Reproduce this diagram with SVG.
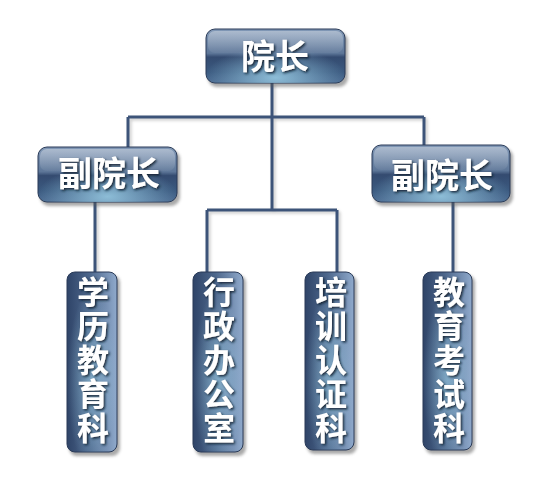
<svg xmlns="http://www.w3.org/2000/svg" width="554" height="484" viewBox="0 0 554 484">
<defs>
<linearGradient id="gh" x1="0" y1="0" x2="0" y2="1">
<stop offset="0" stop-color="#8198b6"/>
<stop offset="0.45" stop-color="#5d7698"/>
<stop offset="0.52" stop-color="#344b70"/>
<stop offset="0.8" stop-color="#3b5a80"/>
<stop offset="1" stop-color="#4f6f95"/>
</linearGradient>
<radialGradient id="glowh" cx="0.5" cy="0.85" r="0.5" fx="0.5" fy="0.9">
<stop offset="0" stop-color="#9fd3ea" stop-opacity="0.8"/>
<stop offset="1" stop-color="#9fd3ea" stop-opacity="0"/>
</radialGradient>
<linearGradient id="gv" x1="0" y1="0" x2="1" y2="0">
<stop offset="0" stop-color="#2f4468"/>
<stop offset="0.45" stop-color="#4d678c"/>
<stop offset="1" stop-color="#90aacc"/>
</linearGradient>
<radialGradient id="glowv" cx="0.5" cy="0.6" r="0.5">
<stop offset="0" stop-color="#9fd3ea" stop-opacity="0.6"/>
<stop offset="1" stop-color="#9fd3ea" stop-opacity="0"/>
</radialGradient>
<linearGradient id="gloss" x1="0" y1="0" x2="0" y2="1">
<stop offset="0" stop-color="#ffffff" stop-opacity="0.35"/>
<stop offset="1" stop-color="#ffffff" stop-opacity="0.05"/>
</linearGradient>
<filter id="sh" x="-20%" y="-20%" width="140%" height="140%">
<feGaussianBlur stdDeviation="1.5"/>
</filter>
<filter id="ts" x="-20%" y="-20%" width="140%" height="140%">
<feDropShadow dx="1.5" dy="1.5" stdDeviation="1" flood-color="#0d1a2e" flood-opacity="0.9"/>
</filter>
</defs>
<style>
.shadow{fill:#555;opacity:0.5;filter:url(#sh)}
.bh{fill:url(#gh);stroke:#2a3b58;stroke-width:1}
.bv{fill:url(#gv);stroke:#2a3b58;stroke-width:1}
.gh{fill:url(#glowh)}
.gv{fill:url(#glowv)}
.gl{fill:url(#gloss)}
.t{fill:#ffffff;font-family:"Noto Sans CJK SC","Noto Sans",sans-serif;font-weight:bold;text-anchor:middle;filter:url(#ts)}
.lg{font-size:34px}
.sm{font-size:32px;writing-mode:vertical-rl;letter-spacing:2px}
.ln{fill:none;stroke:#3d5479;stroke-width:3}
.lns{fill:none;stroke:#999;stroke-width:3;opacity:0.5;filter:url(#sh)}
</style>
<g id="connectors">
<path class="lns" d="M274,85 V119 M130,119 H426 M130,119 V147 M426,119 V145 M274,119 V212 M209,212 H339 M209,212 V272 M339,212 V272 M97,204 V272 M455,204 V272"/>
<path class="ln" d="M272,83 V117 M128,117 H424 M128,117 V147 M424,117 V145 M272,117 V210 M207,210 H337 M207,210 V272 M337,210 V272 M95,202 V272 M453,202 V272"/>
</g>
<g id="n_yuanzhang">
<rect class="shadow" x="208" y="32" width="140" height="55" rx="9"/>
<rect class="bh" x="206" y="29" width="139" height="54" rx="9"/>
<rect class="gh" x="206" y="29" width="139" height="54" rx="9"/>
<rect class="gl" x="208" y="31" width="135" height="22" rx="7"/>
<text class="t lg" x="275" y="69">院长</text>
</g>
<g id="n_fu1">
<rect class="shadow" x="40" y="150" width="140" height="56" rx="9"/>
<rect class="bh" x="38" y="147" width="139" height="55" rx="9"/>
<rect class="gh" x="38" y="147" width="139" height="55" rx="9"/>
<rect class="gl" x="40" y="149" width="135" height="22" rx="7"/>
<text class="t lg" x="109" y="186">副院长</text>
</g>
<g id="n_fu2">
<rect class="shadow" x="374" y="148" width="139" height="58" rx="9"/>
<rect class="bh" x="372" y="145" width="138" height="57" rx="9"/>
<rect class="gh" x="372" y="145" width="138" height="57" rx="9"/>
<rect class="gl" x="374" y="147" width="134" height="23" rx="7"/>
<text class="t lg" x="442" y="188">副院长</text>
</g>
<g id="n_xueli">
<rect class="shadow" x="69" y="275" width="51" height="181" rx="8"/>
<rect class="bv" x="67" y="272" width="50" height="180" rx="8"/>
<rect class="gv" x="67" y="272" width="50" height="180" rx="8"/>
<text class="t sm" x="93" y="361">学历教育科</text>
</g>
<g id="n_xingzheng">
<rect class="shadow" x="195" y="275" width="51" height="181" rx="8"/>
<rect class="bv" x="193" y="272" width="50" height="180" rx="8"/>
<rect class="gv" x="193" y="272" width="50" height="180" rx="8"/>
<text class="t sm" x="219" y="361">行政办公室</text>
</g>
<g id="n_peixun">
<rect class="shadow" x="307" y="275" width="50" height="179" rx="8"/>
<rect class="bv" x="305" y="272" width="49" height="178" rx="8"/>
<rect class="gv" x="305" y="272" width="49" height="178" rx="8"/>
<text class="t sm" x="331" y="361">培训认证科</text>
</g>
<g id="n_jiaoyu">
<rect class="shadow" x="425" y="275" width="50" height="179" rx="8"/>
<rect class="bv" x="423" y="272" width="49" height="178" rx="8"/>
<rect class="gv" x="423" y="272" width="49" height="178" rx="8"/>
<text class="t sm" x="449" y="361">教育考试科</text>
</g>
</svg>
